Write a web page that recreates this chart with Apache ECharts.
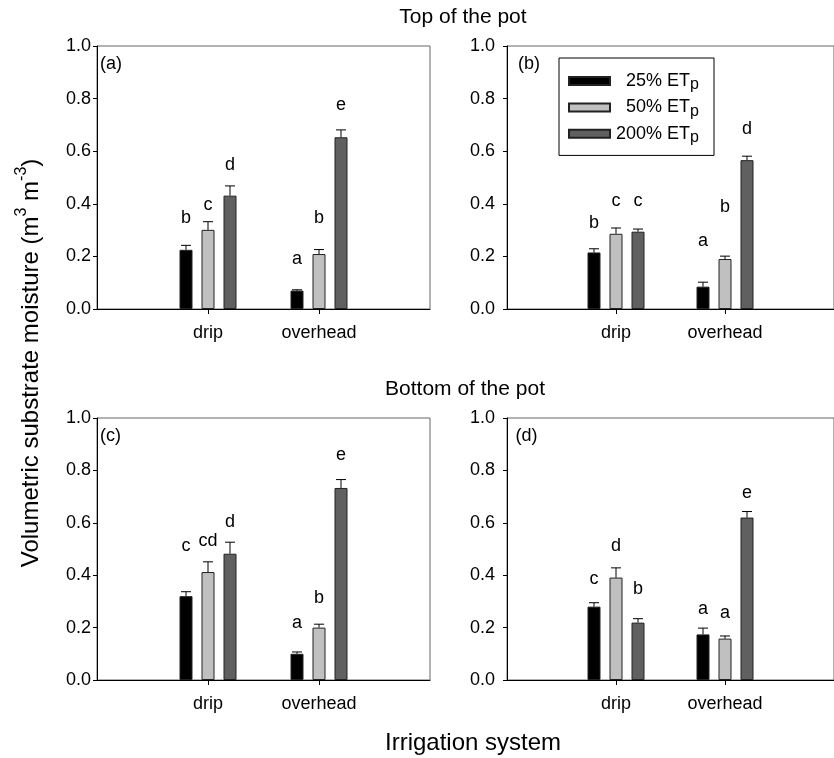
<!DOCTYPE html>
<html><head><meta charset="utf-8">
<script src="https://cdn.jsdelivr.net/npm/echarts@6/dist/echarts.min.js"></script>
<style>html,body{margin:0;padding:0;background:#fff}#c{width:834px;height:758px}</style>
</head><body><div id="c"></div>
<script>
// ---------- data ----------
const categories = ['drip', 'overhead'];
const treatmentPct = ['25%', '50%', '200%'];
const treatments = ['25% ETp', '50% ETp', '200% ETp'];
const yTicks = [0, 0.2, 0.4, 0.6, 0.8, 1.0];
const panelTags = ['(a)', '(b)', '(c)', '(d)'];

// (a) top of pot, left
const a_25 = [0.225, 0.070], a_50 = [0.301, 0.209], a_200 = [0.431, 0.653];
const a_25err = [0.017, 0.003], a_50err = [0.031, 0.017], a_200err = [0.037, 0.028];
const a_25let = ['b', 'a'], a_50let = ['c', 'b'], a_200let = ['d', 'e'];
const a_25letY = [0.346, 0.190], a_50letY = [0.396, 0.346], a_200letY = [0.548, 0.776];

// (b) top of pot, right
const b_25 = [0.215, 0.085], b_50 = [0.286, 0.190], b_200 = [0.294, 0.566];
const b_25err = [0.014, 0.017], b_50err = [0.022, 0.011], b_200err = [0.010, 0.015];
const b_25let = ['b', 'a'], b_50let = ['c', 'b'], b_200let = ['c', 'd'];
const b_25letY = [0.327, 0.257], b_50letY = [0.411, 0.386], b_200letY = [0.411, 0.686];

// (c) bottom of pot, left
const c_25 = [0.320, 0.100], c_50 = [0.412, 0.200], c_200 = [0.482, 0.733];
const c_25err = [0.017, 0.007], c_50err = [0.039, 0.013], c_200err = [0.044, 0.032];
const c_25let = ['c', 'a'], c_50let = ['cd', 'b'], c_200let = ['d', 'e'];
const c_25letY = [0.511, 0.219], c_50letY = [0.530, 0.314], c_200letY = [0.602, 0.860];

// (d) bottom of pot, right
const d_25 = [0.280, 0.174], d_50 = [0.391, 0.158], d_200 = [0.219, 0.620];
const d_25err = [0.015, 0.024], d_50err = [0.037, 0.010], d_200err = [0.015, 0.023];
const d_25let = ['c', 'a'], d_50let = ['d', 'a'], d_200let = ['b', 'e'];
const d_25letY = [0.386, 0.269], d_50letY = [0.511, 0.254], d_200letY = [0.349, 0.714];

// ---------- assembly ----------
const panels = [
  { vals: [a_25, a_50, a_200], errs: [a_25err, a_50err, a_200err], lets: [a_25let, a_50let, a_200let], letY: [a_25letY, a_50letY, a_200letY] },
  { vals: [b_25, b_50, b_200], errs: [b_25err, b_50err, b_200err], lets: [b_25let, b_50let, b_200let], letY: [b_25letY, b_50letY, b_200letY] },
  { vals: [c_25, c_50, c_200], errs: [c_25err, c_50err, c_200err], lets: [c_25let, c_50let, c_200let], letY: [c_25letY, c_50letY, c_200letY] },
  { vals: [d_25, d_50, d_200], errs: [d_25err, d_50err, d_200err], lets: [d_25let, d_50let, d_200let], letY: [d_25letY, d_50letY, d_200letY] }
];

const FONT = '"Liberation Sans", Arial, Helvetica, sans-serif';
const barColors = ['#000000', '#c0c0c0', '#606060'];
const gridBoxes = [
  { left: 97, top: 46, width: 333, height: 263 },
  { left: 507, top: 46, width: 337, height: 263 },
  { left: 97, top: 418, width: 333, height: 262 },
  { left: 507, top: 418, width: 337, height: 262 }
];
const yLabelMargin = [6, 12, 6, 12];
const axisCats = [''].concat(categories, ['']);
const showCat = (i, v) => v !== '';
const BAR_W = 13, BAR_STEP = 22;

const grid = [], xAxis = [], yAxis = [], series = [];
panels.forEach((p, pi) => {
  grid.push(Object.assign({ show: true, borderColor: '#666', borderWidth: 1, backgroundColor: 'transparent', containLabel: false }, gridBoxes[pi]));
  xAxis.push({
    type: 'category', gridIndex: pi, data: axisCats, boundaryGap: false,
    axisLine: { lineStyle: { color: '#000', width: 1 } },
    axisTick: { show: true, interval: showCat, length: 5, inside: false, lineStyle: { color: '#000' } },
    axisLabel: { interval: showCat, fontSize: 18, fontFamily: FONT, color: '#000', margin: 15 },
    splitLine: { show: false }
  });
  yAxis.push({
    type: 'value', gridIndex: pi, min: yTicks[0], max: yTicks[yTicks.length - 1], interval: 0.2,
    axisLine: { show: true, lineStyle: { color: '#000', width: 1 } },
    axisTick: { show: true, length: 4, lineStyle: { color: '#000' } },
    axisLabel: { fontSize: 18, fontFamily: FONT, color: '#000', margin: yLabelMargin[pi], formatter: v => v.toFixed(1) },
    splitLine: { show: false }
  });
  const items = [];
  treatments.forEach((t, ti) => {
    series.push({
      type: 'bar', name: t, xAxisIndex: pi, yAxisIndex: pi,
      data: categories.map((c, ci) => [ci + 1, p.vals[ti][ci]]),
      barWidth: BAR_W, barGap: (BAR_STEP - BAR_W) / BAR_W * 100 + '%',
      itemStyle: { color: barColors[ti], borderColor: '#222', borderWidth: 1 },
      emphasis: { disabled: true }, animation: false
    });
    categories.forEach((c, ci) => {
      items.push({ cat: ci + 1, t: ti, v: p.vals[ti][ci], e: p.errs[ti][ci], letter: p.lets[ti][ci], ly: p.letY[ti][ci] });
    });
  });
  series.push({
    type: 'custom', xAxisIndex: pi, yAxisIndex: pi, z: 5, clip: false, animation: false, silent: true,
    data: items.map(it => [it.cat, it.v + it.e]),
    renderItem: (params, api) => {
      const it = items[params.dataIndex];
      const x = api.coord([it.cat, 0])[0] + (it.t - 1) * BAR_STEP;
      const y0 = api.coord([it.cat, it.v])[1];
      const y1 = api.coord([it.cat, it.v + it.e])[1];
      const yl = api.coord([it.cat, it.ly])[1];
      return {
        type: 'group', children: [
          { type: 'line', shape: { x1: x, y1: y0, x2: x, y2: y1 }, style: { stroke: '#000', lineWidth: 1 } },
          { type: 'line', shape: { x1: x - 5, y1: y1, x2: x + 5, y2: y1 }, style: { stroke: '#000', lineWidth: 1 } },
          { type: 'text', x: x, y: yl, style: { text: it.letter, fill: '#000', font: '18px ' + FONT, align: 'center', verticalAlign: 'middle', textAlign: 'center', textVerticalAlign: 'middle' } }
        ]
      };
    }
  });
});

const txt = (x, y, text, size, extra) => ({
  type: 'text', x: x, y: y, silent: true,
  style: Object.assign({ text: text, fill: '#000', font: size + 'px ' + FONT, align: 'center', verticalAlign: 'middle', textAlign: 'center', textVerticalAlign: 'middle' }, extra || {})
});

const tagPos = [[100, 55], [518, 55], [100, 427.5], [515.5, 427.5]];
const graphic = [
  txt(463, 17.7, 'Top of the pot', 21),
  txt(465, 389.4, 'Bottom of the pot', 21),
  txt(473, 743.7, 'Irrigation system', 24),
  Object.assign(txt(31, 363, '{n|Volumetric substrate moisture (m}{sup|3}{n| m}{sup|-3}{n|)}', 24, {
    rich: {
      n: { fontSize: 24, fontFamily: FONT, fill: '#000', lineHeight: 35 },
      sup: { fontSize: 16, fontFamily: FONT, fill: '#000', lineHeight: 14, verticalAlign: 'top' }
    }
  }), { rotation: Math.PI / 2 })
].concat(panelTags.map((t, i) => txt(tagPos[i][0], tagPos[i][1], t, 18, { align: 'left', textAlign: 'left', verticalAlign: 'top', textVerticalAlign: 'top' })));

const chart = echarts.init(document.getElementById('c'), null, { renderer: 'canvas' });
chart.setOption({
  backgroundColor: '#fff',
  animation: false,
  textStyle: { fontFamily: FONT },
  grid, xAxis, yAxis, series, graphic,
  legend: {
    data: treatments, orient: 'vertical', left: 559, top: 58,
    padding: [14, 15, 9.6, 9],
    itemWidth: 41, itemHeight: 8, itemGap: 5.4, icon: 'rect',
    backgroundColor: '#fff', borderColor: '#000', borderWidth: 1,
    selectedMode: false,
    formatter: name => '{n|' + treatmentPct[treatments.indexOf(name)] + ' ET}{s|p}',
    textStyle: {
      width: 84,
      rich: {
        n: { fontSize: 18, fontFamily: FONT, color: '#000', lineHeight: 24, align: 'right' },
        s: { fontSize: 16, fontFamily: FONT, color: '#000', lineHeight: 12, verticalAlign: 'bottom', align: 'right' }
      }
    }
  }
});
</script></body></html>
